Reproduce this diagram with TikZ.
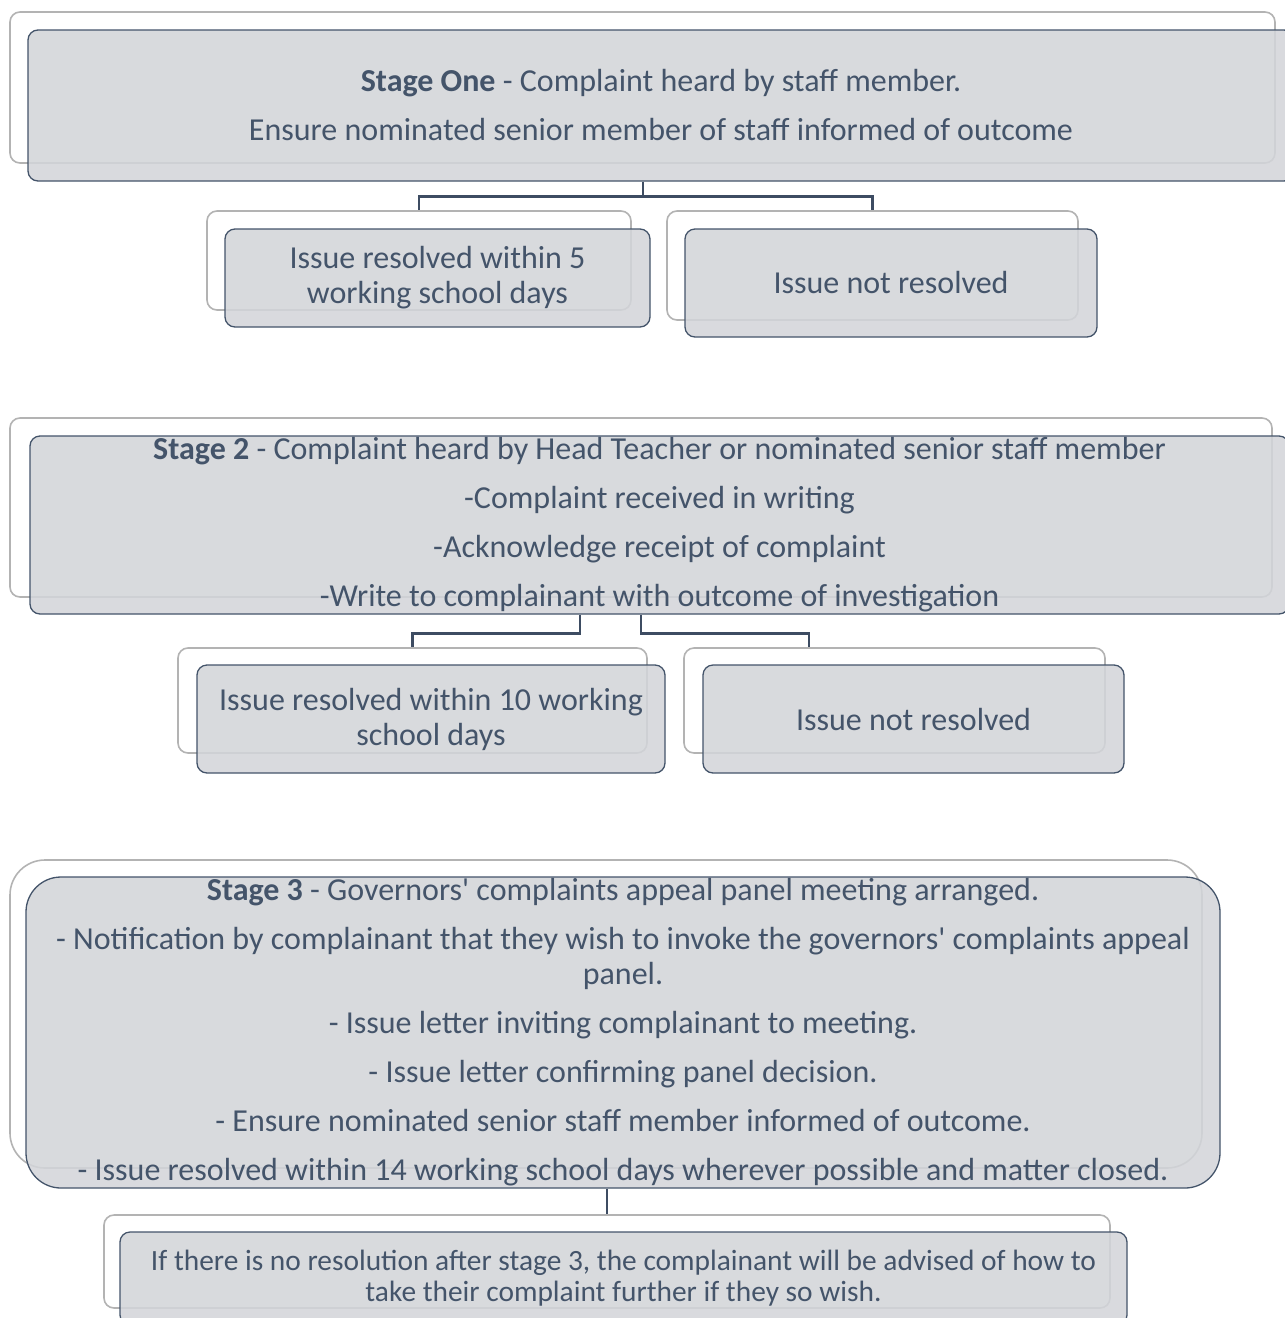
\documentclass[tikz,border=0pt]{standalone}
\usepackage{fontspec}
\setmainfont{Carlito}
\definecolor{txt}{HTML}{44546A}
\definecolor{boxfill}{HTML}{D3D5D9}
\definecolor{backline}{HTML}{B3B3B3}
\definecolor{connc}{HTML}{3D4C62}
\tikzset{
  front/.style={draw=txt, line width=1.3pt, fill=boxfill, fill opacity=0.87, text opacity=1,
    rounded corners=10pt, text=txt, align=center, inner sep=0pt,
    font=\fontsize{32}{35}\selectfont},
  back/.style={draw=backline, line width=1.6pt, fill=white, rounded corners=10pt, inner sep=0pt},
  conn/.style={draw=connc, line width=2.8pt}
}
\begin{document}
\begin{tikzpicture}[x=1pt,y=-1pt]
\useasboundingbox (0,0) rectangle (1285,1318);
\clip (0,0) rectangle (1285,1318);
% back boxes
\node[back, minimum width=1265pt, minimum height=151pt] (s1b) at (642.5,87.5) {};
\node[back, minimum width=424pt, minimum height=99pt] (r1b) at (419,260.5) {};
\node[back, minimum width=411pt, minimum height=109pt] (n1b) at (872.5,265.5) {};
\node[back, minimum width=1262pt, minimum height=179pt] (s2b) at (641,507.5) {};
\node[back, minimum width=469pt, minimum height=105pt] (r2b) at (412.5,700.5) {};
\node[back, minimum width=421pt, minimum height=105pt] (n2b) at (894.5,700.5) {};
\node[back, minimum width=1192pt, minimum height=308pt, rounded corners=35pt] (s3b) at (606,1014) {};
\node[back, minimum width=1006pt, minimum height=93pt] (fb) at (607,1261.5) {};
% front boxes
\node[front, minimum width=1266pt, minimum height=151pt] (s1) at (661,105.5)
  {\textbf{Stage One} - Complaint heard by staff member.\\[14pt]
   Ensure nominated senior member of staff informed of outcome};
\node[front, minimum width=425pt, minimum height=98pt] (r1) at (437.5,278)
  {Issue resolved within 5\\working school days};
\node[front, minimum width=412pt, minimum height=108pt] (n1) at (891,283)
  {Issue not resolved};
\node[front, minimum width=1259pt, minimum height=178pt] (s2) at (659.5,525)
  {\textbf{Stage 2} - Complaint heard by Head Teacher or nominated senior staff member\\[14pt]
   -Complaint received in writing\\[14pt]
   -Acknowledge receipt of complaint\\[14pt]
   -Write to complainant with outcome of investigation};
\node[front, minimum width=468pt, minimum height=108pt] (r2) at (431,719)
  {Issue resolved within 10 working\\school days};
\node[front, minimum width=421pt, minimum height=108pt] (n2) at (913.5,719)
  {Issue not resolved};
\node[front, minimum width=1194pt, minimum height=311pt, rounded corners=35pt] (s3) at (623,1032.5)
  {\textbf{Stage 3} - Governors\textquotesingle{} complaints appeal panel meeting arranged.\\[14pt]
   - Notification by complainant that they wish to invoke the governors\textquotesingle{} complaints appeal\\panel.\\[14pt]
   - Issue letter inviting complainant to meeting.\\[14pt]
   - Issue letter confirming panel decision.\\[14pt]
   - Ensure nominated senior staff member informed of outcome.\\[14pt]
   - Issue resolved within 14 working school days wherever possible and matter closed.};
\node[front, minimum width=1007pt, minimum height=93pt, font=\fontsize{29.4}{31}\selectfont] (f) at (623.5,1278.5)
  {If there is no resolution after stage 3, the complainant will be advised of how to\\take their complaint further if they so wish.};
% connectors
\draw[conn] ([xshift=-18pt]s1.south) -- ++(0,15) -| (r1b.north);
\draw[conn] ([xshift=-18pt]s1.south) -- ++(0,15) -| (n1b.north);
\draw[conn] ([xshift=-79.5pt]s2.south) -- ++(0,19) -| (r2b.north);
\draw[conn] ([xshift=-18.5pt]s2.south) -- ++(0,19) -| ([xshift=-85.5pt]n2b.north);
\draw[conn] (s3.south -| fb.north) -- (fb.north);
\end{tikzpicture}
\end{document}
